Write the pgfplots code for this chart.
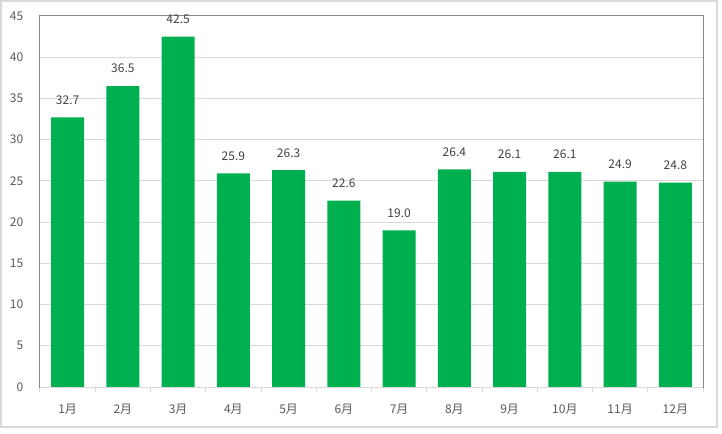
\documentclass[border=0pt]{standalone}
\usepackage{pgfplots}
\pgfplotsset{compat=1.18}
\usepackage{fontspec}
\setmainfont{Noto Sans CJK JP}
\definecolor{bargreen}{HTML}{00B050}
\definecolor{gridgray}{HTML}{D9D9D9}
\definecolor{boxgray}{HTML}{898989}
\definecolor{labelgray}{HTML}{404040}
\definecolor{tickgray}{HTML}{595959}
\begin{document}
\begin{tikzpicture}
% page frame and chart border
\path[use as bounding box] (0,0) rectangle (541.5pt,324.75pt);
\draw[gridgray, line width=0.9pt] (0.75pt,4.5pt) rectangle (537.75pt,324pt);
\begin{axis}[
    at={(30pt,34.5pt)}, anchor=south west,
    scale only axis,
    width=497.25pt, height=278.25pt,
    ybar, bar width=24.75pt,
    xmin=-0.5, xmax=11.5,
    ymin=0, ymax=45,
    ytick={0,5,...,45},
    xtick={0,...,11},
    xticklabels={1月,2月,3月,4月,5月,6月,7月,8月,9月,10月,11月,12月},
    minor xtick={-0.5,0.5,...,11.5},
    major tick length=0pt,
    minor tick length=4pt,
    tick align=outside,
    xtick pos=bottom, ytick pos=left,
    minor tick style={gridgray, line width=0.75pt},
    ymajorgrids,
    grid style={gridgray, line width=0.75pt},
    axis line style={boxgray, line width=0.75pt},
    font=\fontsize{9}{11}\selectfont,
    /pgf/number format/assume math mode=true,
    /pgf/number format/fixed, /pgf/number format/fixed zerofill,
    /pgf/number format/precision=1,
    yticklabel={\pgfmathprintnumber[fixed,precision=0,fixed zerofill=false]{\tick}},
    y tick label style={text=tickgray, xshift=-9pt},
    x tick label style={text=tickgray, yshift=-9pt},
    nodes near coords,
    every node near coord/.append style={text=labelgray, inner sep=0pt, anchor=south, yshift=9.5pt,
        font=\fontsize{9}{11}\selectfont},
]
\addplot[fill=bargreen, draw=none, bar shift=0pt] coordinates {
    (0, 32.7)
    (1, 36.5)
    (2, 42.5)
    (3, 25.9)
    (4, 26.3)
    (5, 22.6)
    (6, 19.0)
    (7, 26.4)
    (8, 26.1)
    (9, 26.1)
    (10, 24.9)
    (11, 24.8)
};
\draw[gridgray, line width=0.75pt] (axis cs:-0.5,0) -- (axis cs:11.5,0);
\end{axis}
\end{tikzpicture}
\end{document}
